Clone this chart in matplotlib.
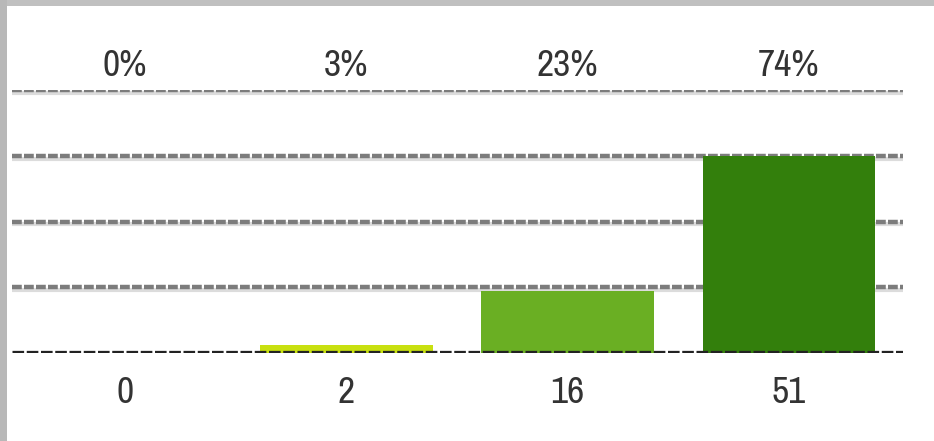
import matplotlib.pyplot as plt
from matplotlib import font_manager
from matplotlib.patches import Rectangle

# data
counts = [0, 2, 16, 51]
pct_labels = ['0%', '3%', '23%', '74%']
bar_colors = ['#e8d800', '#c8e010', '#6aaf23', '#337f0c']
grid_levels = [17, 34, 51, 68]

# pick an installed narrow/condensed face if there is one
names = sorted({f.name for f in font_manager.fontManager.ttflist})
narrow = [n for n in names if 'Narrow' in n or 'Condensed' in n]
plt.rcParams['font.family'] = narrow[:1] + ['DejaVu Sans']

fig = plt.figure(figsize=(9.34, 4.41), dpi=100)
fig.patch.set_facecolor('white')
W, H = 934, 441

# axes placed in pixel terms: x 12..903, y 90..353
ax = fig.add_axes([12 / W, (H - 353) / H, (903 - 12) / W, (353 - 90) / H])
ax.set_xlim(-0.51, 3.515)
ax.set_ylim(0, 68)
ax.axis('off')

x = list(range(len(counts)))

# grid lines with light shadow under each
for g in grid_levels:
    ax.axhline(g - 0.75, color='#dcdcdc', lw=3, zorder=0)
    ax.axhline(g, color='#7c7c7c', lw=3.2, linestyle=(0, (2.2, 0.5)), zorder=1)

ax.bar(x, counts, width=0.78, color=bar_colors, zorder=2)

# baseline
ax.axhline(0, color='#222222', lw=3.8, linestyle=(0, (2.2, 0.5)), zorder=3)

for xi, c, p in zip(x, counts, pct_labels):
    ax.text(xi, 1.095, p, transform=ax.get_xaxis_transform(), ha='center', va='center',
            fontsize=27, fontstretch='condensed', color='#333333')
    ax.text(xi, -0.15, str(c), transform=ax.get_xaxis_transform(), ha='center', va='center',
            fontsize=27, fontstretch='condensed', color='#333333')

# grey frame along top and left edges
fig.patches.append(Rectangle((0, 1 - 6 / H), 1, 6 / H, transform=fig.transFigure,
                             facecolor='#c0c0c0', edgecolor='none', zorder=10))
fig.patches.append(Rectangle((0, 0), 7 / W, 1, transform=fig.transFigure,
                             facecolor='#b8b8b8', edgecolor='none', zorder=10))

fig.savefig('out.png', dpi=100)
